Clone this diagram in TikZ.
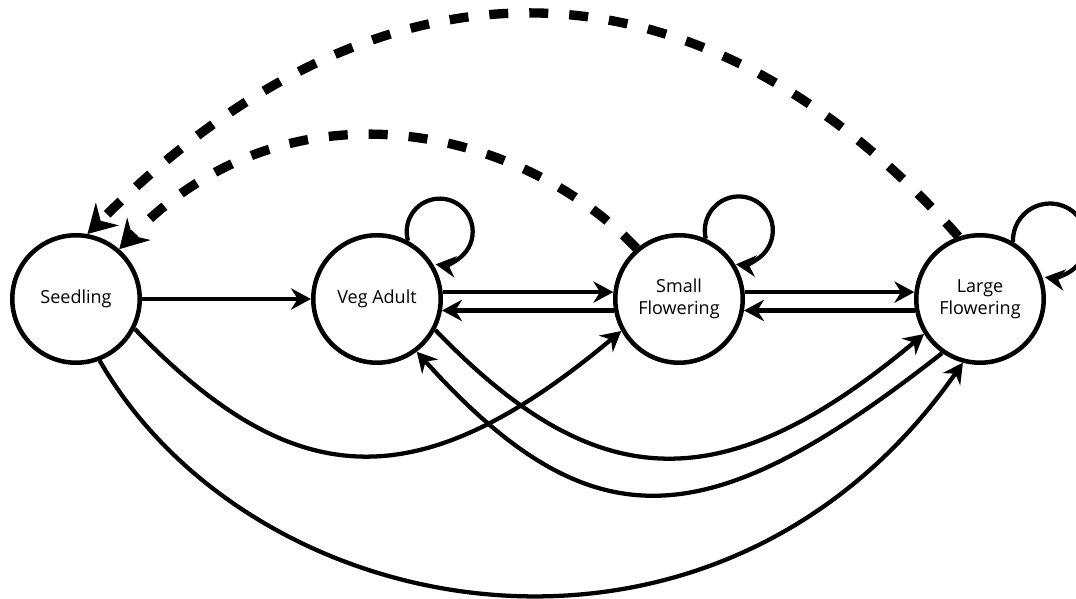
\documentclass[tikz,border=0pt]{standalone}
\usepackage{fontspec}
\setmainfont{Open Sans}
\usetikzlibrary{arrows.meta}

\begin{document}
\begin{tikzpicture}[x=0.75pt,y=0.75pt,
    stage/.style={circle,draw,line width=3.4pt,minimum size=95.6pt,inner sep=0pt,align=center,font=\fontsize{13.5}{16.5}\selectfont},
    trans/.style={line width=3.2pt,-{Stealth[length=15pt,width=16pt,inset=5pt]}},
    back/.style={line width=7pt,dash pattern=on 14.25pt off 15.75pt,-{Stealth[length=21pt,width=24pt,inset=7pt]}}]
    \useasboundingbox (0,0) rectangle (1076,599);
    \node[stage] (seed)  at (76,300)  {Seedling};
    \node[stage] (veg)   at (377,300) {Veg Adult};
    \node[stage] (small) at (679,300) {Small\\Flowering};
    \node[stage] (large) at (980,300) {Large\\Flowering};
    \draw[trans] (seed.east) -- (veg.west);
    \draw[trans] (veg.6) -- (small.174);
    \draw[trans] (small.190) -- (veg.-10);
    \draw[trans] (small.6) -- (large.174);
    \draw[trans] (large.190) -- (small.-10);
    \draw[trans] (veg.62) arc[start angle=196,end angle=-97,radius=33];
    \draw[trans] (small.66) arc[start angle=194,end angle=-95,radius=34];
    \draw[trans] (large.60) arc[start angle=182,end angle=-98,radius=37];
    \draw[trans] (seed.-27) .. controls +(159,-165) and +(-203,-170) .. (small.209);
    \draw[trans] (veg.-28) .. controls +(159,-165) and +(-203,-170) .. (large.212);
    \draw[trans] (large.235) .. controls +(-231,-181) and +(178,-198) .. (veg.-53);
    \draw[trans] (seed.-69) .. controls +(155,-269) and +(-245,-350) .. (large.255);
    \draw[back] (large.109) .. controls +(-248,279) and +(307,309) .. (seed.80);
    \draw[back] (small.130) .. controls +(-110,117) and +(173,180) .. (seed.49);
\end{tikzpicture}
\end{document}
